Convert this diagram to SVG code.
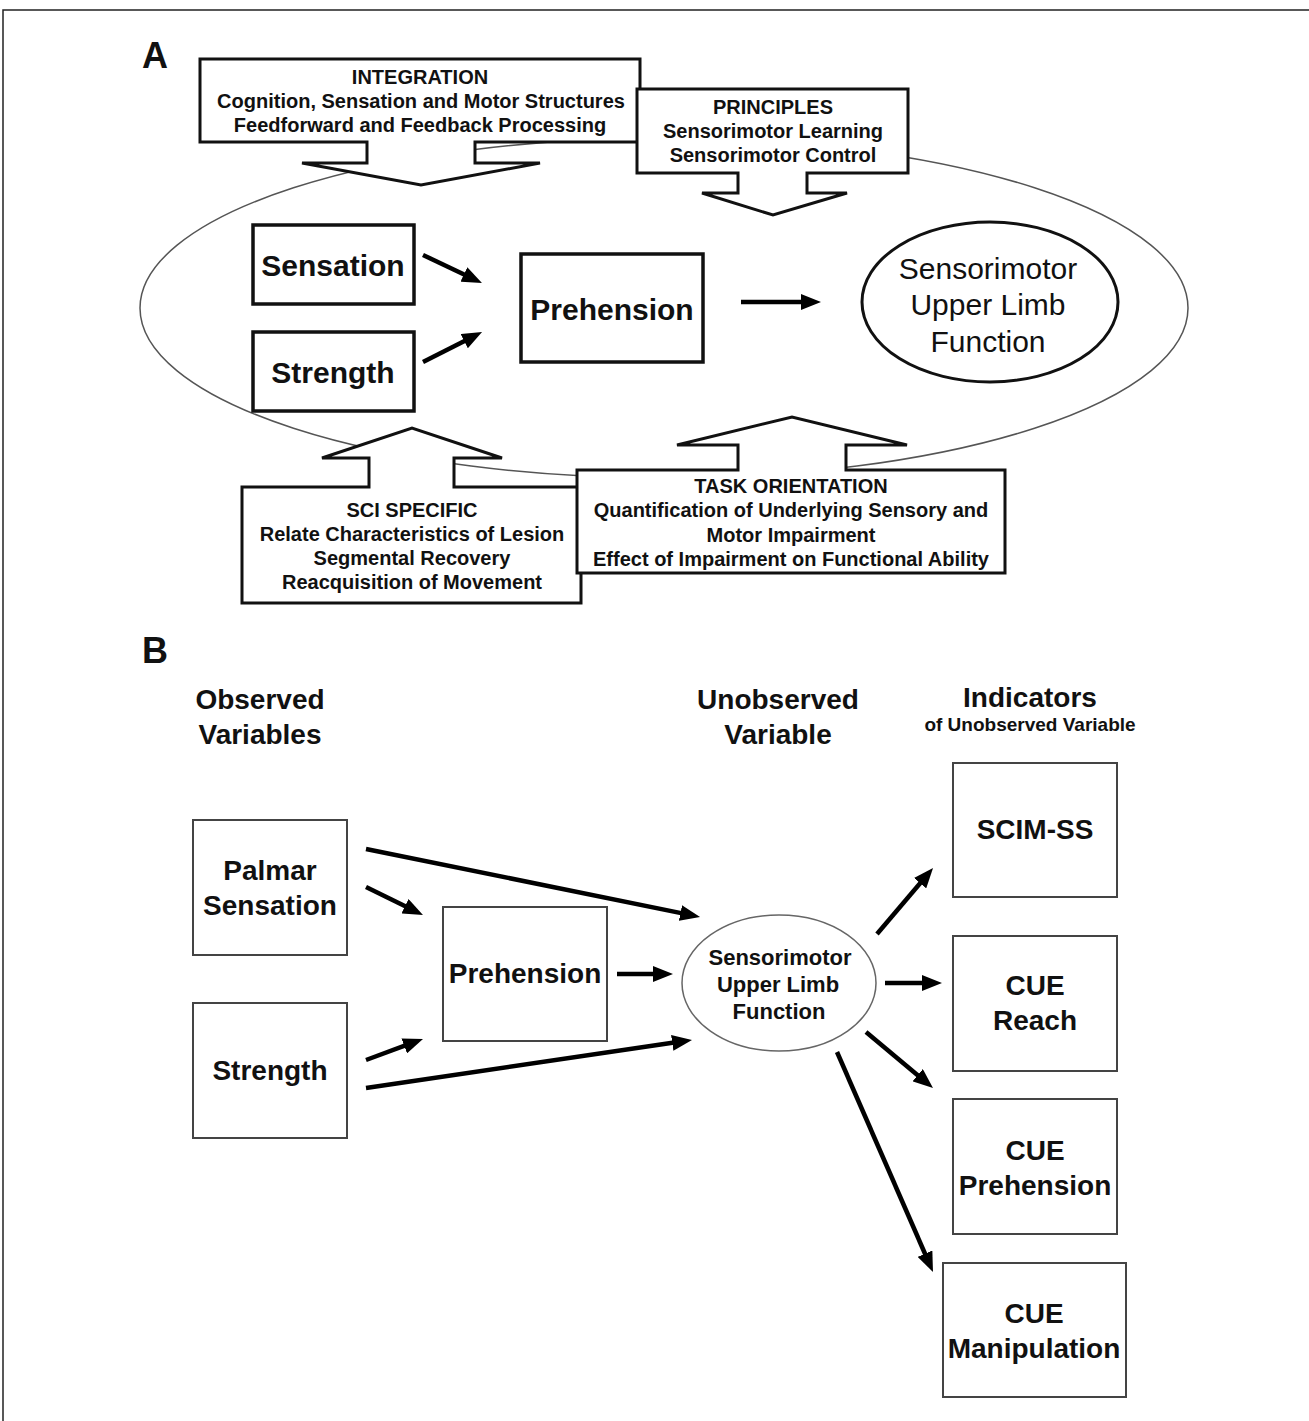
<svg xmlns="http://www.w3.org/2000/svg" width="1309" height="1421" viewBox="0 0 1309 1421">
<defs>
<style>
text{font-family:"Liberation Sans",Arial,sans-serif;font-weight:bold;fill:#111;text-anchor:middle}
.call{fill:#fff;stroke:#111;stroke-width:3;stroke-linejoin:miter}
.ct{font-size:20px}
.boxA{fill:#fff;stroke:#111;stroke-width:3.5}
.tA{font-size:30px}
.boxB{fill:#fff;stroke:#444;stroke-width:2}
.tB{font-size:28px}
.arr{stroke:#000;stroke-width:4.5;fill:none;marker-end:url(#ah)}
</style>
<marker id="ah" markerUnits="userSpaceOnUse" markerWidth="20" markerHeight="16" refX="2" refY="8" orient="auto">
<path d="M0,0 L20,8 L0,16 z" fill="#000"/>
</marker>
</defs>
<rect width="1309" height="1421" fill="#fff"/>
<path d="M3,1421 L3,10 L1309,10" fill="none" stroke="#222" stroke-width="1.5"/>
<text x="155" y="68" style="font-size:36px">A</text>
<text x="155" y="663" style="font-size:36px">B</text>

<g id="context-ellipse">
<ellipse cx="664" cy="308" rx="524" ry="170" fill="none" stroke="#555" stroke-width="1.5"/>
</g>

<g id="integration">
<polygon class="call" points="200,59 640,59 640,142 475,142 475,163 540,163 421,185 302,163 367,163 367,142 200,142"/>
<text class="ct" x="420" y="84">INTEGRATION</text>
<text class="ct" x="421" y="108">Cognition, Sensation and Motor Structures</text>
<text class="ct" x="420" y="132">Feedforward and Feedback Processing</text>
</g>
<g id="principles">
<polygon class="call" points="637,89 908,89 908,173 807,173 807,193 847,193 773,215 702,193 738,193 738,173 637,173"/>
<text class="ct" x="773" y="114">PRINCIPLES</text>
<text class="ct" x="773" y="138">Sensorimotor Learning</text>
<text class="ct" x="773" y="162">Sensorimotor Control</text>
</g>
<g id="sci-specific">
<polygon class="call" points="242,487 369,487 369,458 322,458 412,428 502,458 454,458 454,487 581,487 581,603 242,603"/>
<text class="ct" x="412" y="517">SCI SPECIFIC</text>
<text class="ct" x="412" y="541">Relate Characteristics of Lesion</text>
<text class="ct" x="412" y="565">Segmental Recovery</text>
<text class="ct" x="412" y="589">Reacquisition of Movement</text>
</g>
<g id="task-orientation">
<polygon class="call" points="577,470 738,470 738,445 677,445 792,417 907,445 846,445 846,470 1005,470 1005,573 577,573"/>
<text class="ct" x="791" y="493">TASK ORIENTATION</text>
<text class="ct" x="791" y="517">Quantification of Underlying Sensory and</text>
<text class="ct" x="791" y="542">Motor Impairment</text>
<text class="ct" x="791" y="566">Effect of Impairment on Functional Ability</text>
</g>

<g id="a-sensation">
<rect class="boxA" x="253" y="225" width="161" height="79"/>
<text class="tA" x="333" y="276">Sensation</text>
</g>
<g id="a-strength">
<rect class="boxA" x="253" y="332" width="161" height="79"/>
<text class="tA" x="333" y="383">Strength</text>
</g>
<g id="a-prehension">
<rect class="boxA" x="521" y="254" width="182" height="108"/>
<text class="tA" x="612" y="320">Prehension</text>
</g>
<g id="a-sulf">
<ellipse cx="990" cy="302" rx="128" ry="80" fill="#fff" stroke="#111" stroke-width="3"/>
<text x="988" y="279" style="font-size:30px;font-weight:normal">Sensorimotor</text>
<text x="988" y="315" style="font-size:30px;font-weight:normal">Upper Limb</text>
<text x="988" y="352" style="font-size:30px;font-weight:normal">Function</text>
</g>

<g id="b-headers">
<text class="tB" x="260" y="709">Observed</text>
<text class="tB" x="260" y="744">Variables</text>
<text class="tB" x="778" y="709">Unobserved</text>
<text class="tB" x="778" y="744">Variable</text>
<text class="tB" x="1030" y="707">Indicators</text>
<text x="1030" y="731" style="font-size:19px">of Unobserved Variable</text>
</g>

<g id="b-palmar">
<rect class="boxB" x="193" y="820" width="154" height="135"/>
<text class="tB" x="270" y="880">Palmar</text>
<text class="tB" x="270" y="915">Sensation</text>
</g>
<g id="b-strength">
<rect class="boxB" x="193" y="1003" width="154" height="135"/>
<text class="tB" x="270" y="1080">Strength</text>
</g>
<g id="b-prehension">
<rect class="boxB" x="443" y="907" width="164" height="134"/>
<text class="tB" x="525" y="983">Prehension</text>
</g>
<g id="b-sulf">
<ellipse cx="779" cy="983" rx="97" ry="68" fill="#fff" stroke="#666" stroke-width="1.5"/>
<text x="780" y="965" style="font-size:22px">Sensorimotor</text>
<text x="778" y="992" style="font-size:22px">Upper Limb</text>
<text x="779" y="1019" style="font-size:22px">Function</text>
</g>
<g id="b-scim">
<rect class="boxB" x="953" y="763" width="164" height="134"/>
<text class="tB" x="1035" y="839">SCIM-SS</text>
</g>
<g id="b-cue-reach">
<rect class="boxB" x="953" y="936" width="164" height="135"/>
<text class="tB" x="1035" y="995">CUE</text>
<text class="tB" x="1035" y="1030">Reach</text>
</g>
<g id="b-cue-prehension">
<rect class="boxB" x="953" y="1099" width="164" height="135"/>
<text class="tB" x="1035" y="1160">CUE</text>
<text class="tB" x="1035" y="1195">Prehension</text>
</g>
<g id="b-cue-manipulation">
<rect class="boxB" x="943" y="1263" width="183" height="134"/>
<text class="tB" x="1034" y="1323">CUE</text>
<text class="tB" x="1034" y="1358">Manipulation</text>
</g>

<g id="connectors">
<line class="arr" x1="423" y1="255" x2="465.7" y2="275.3"/>
<line class="arr" x1="423" y1="362" x2="466" y2="340.2"/>
<line class="arr" x1="741" y1="302" x2="803" y2="302"/>
<line class="arr" x1="366" y1="849" x2="682.4" y2="913.4"/>
<line class="arr" x1="366" y1="887" x2="406.8" y2="907.1"/>
<line class="arr" x1="366" y1="1060" x2="406.1" y2="1045.2"/>
<line class="arr" x1="366" y1="1088" x2="674.2" y2="1042.6"/>
<line class="arr" x1="617" y1="974" x2="655" y2="974"/>
<line class="arr" x1="877" y1="934" x2="921.4" y2="881.7"/>
<line class="arr" x1="885" y1="983" x2="924" y2="983"/>
<line class="arr" x1="866" y1="1032" x2="919.2" y2="1076.5"/>
<line class="arr" x1="837" y1="1052" x2="925.8" y2="1255.5"/>
</g>
</svg>
